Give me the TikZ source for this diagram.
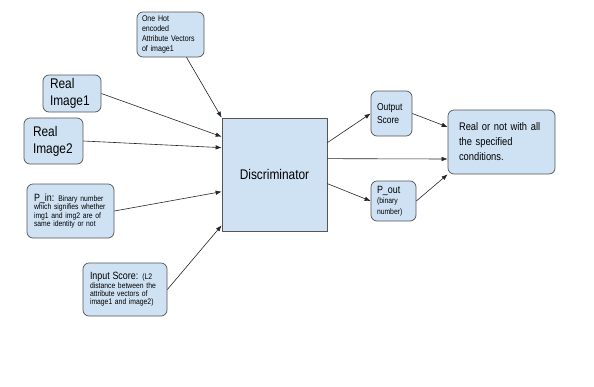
\documentclass[tikz,border=0pt]{standalone}
\usepackage{fontspec}
\setmainfont{Liberation Sans}[FakeStretch=0.85]
\usepackage{tikz}
\usetikzlibrary{arrows.meta}
\definecolor{boxfill}{RGB}{207,226,243}
\definecolor{boxline}{RGB}{85,85,85}
\tikzstyle{box}=[draw=boxline,fill=boxfill,rounded corners=6pt,align=left,line width=0.7pt,inner ysep=2pt]
\tikzstyle{small}=[font=\fontsize{8}{8.3}\selectfont]
\newcommand{\headtxt}[1]{{\fontsize{10.5}{12}\selectfont #1}}

\begin{document}
\begin{tikzpicture}[x=1pt,y=-1pt,>={Latex[length=6pt,width=4.5pt]}]
\tikzstyle{arr}=[->,draw=black!85,line width=0.6pt]
\useasboundingbox[fill=white] (0,0) rectangle (594,386);

% inputs
\node [box,text width=57pt,inner xsep=5pt,minimum height=45pt,font=\fontsize{8.3}{9.8}\selectfont] (onehot) at (170.5,34.5)
  {One Hot\\encoded\\Attribute Vectors\\of image1};
\node [box,text width=44pt,inner xsep=7pt,minimum height=37pt,font=\fontsize{14}{17}\selectfont] (real1) at (72,93.5)
  {Real\\Image1};
\node [box,text width=41pt,inner xsep=9pt,minimum height=46pt,font=\fontsize{14}{17}\selectfont] (real2) at (53.5,141)
  {Real\\Image2};
\node [box,small,text width=73pt,inner xsep=7pt,minimum height=54pt] (pin) at (70.5,211)
  {\headtxt{P\_in:} Binary number\\which signifies whether\\img1 and img2 are of\\same identity or not};
\node [box,small,text width=70pt,inner xsep=7pt,minimum height=53pt] (inscore) at (125,289.5)
  {\headtxt{Input Score:} (L2\\distance between the\\attribute vectors of\\image1 and image2)};

\node [box,sharp corners,align=center,minimum width=105pt,minimum height=113pt,font=\fontsize{14}{17}\selectfont] (disc) at (274.5,174.5)
  {Discriminator};

% outputs
\node [box,text width=29pt,inner xsep=6pt,minimum height=45pt,font=\fontsize{10}{12.5}\selectfont] (outscore) at (391.5,113.5)
  {Output\\Score};
\node [box,text width=33pt,inner xsep=6pt,minimum height=40pt,font=\fontsize{8}{10.5}\selectfont] (pout) at (393.5,201)
  {\headtxt{P\_out}\\(binary\\number)};
\node [box,text width=85pt,inner xsep=11pt,minimum height=64pt,font=\fontsize{11}{15}\selectfont] (real) at (501.5,142)
  {Real or not with all\\the specified\\conditions.};

\draw[arr] (onehot.-55) -- (disc.north west);
\draw[arr] (real1.east) -- ([yshift=-19pt]disc.north west);
\draw[arr] (real2.east) -- ([yshift=-30pt]disc.north west);
\draw[arr] (pin.east) -- ([yshift=-74pt]disc.north west);
\draw[arr] (inscore.east) -- ([yshift=6pt]disc.south west);

\draw[arr] ([yshift=-25pt]disc.north east) -- (outscore.west);
\draw[arr] ([yshift=-41pt]disc.north east) -- ([yshift=-17pt]real.west);
\draw[arr] ([yshift=-66pt]disc.north east) -- (pout.west);
\draw[arr] (outscore.east) -- ([yshift=15pt]real.west);
\draw[arr] (pout.east) -- (real.south west);
\end{tikzpicture}
\end{document}
